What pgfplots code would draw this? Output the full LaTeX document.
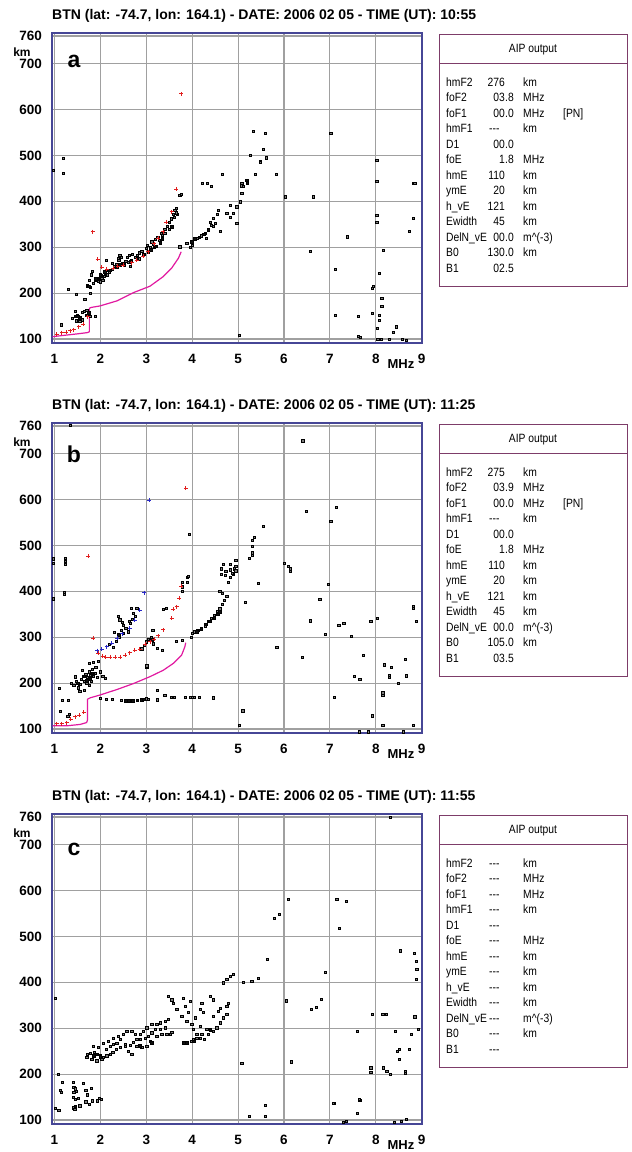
\documentclass[border=0pt]{standalone}
\usepackage{fontspec}
\setmainfont{Liberation Sans}
\newfontfamily\aipff[FakeStretch=0.86]{Liberation Sans}
\usepackage{pgfplots}
\pgfplotsset{compat=1.18}
\definecolor{gridgray}{RGB}{160,160,160}
\definecolor{framecol}{RGB}{70,70,150}
\definecolor{dotgray}{RGB}{125,125,125}
\definecolor{dotblack}{RGB}{15,15,15}
\definecolor{tracered}{RGB}{225,30,30}
\definecolor{traceblue}{RGB}{40,40,200}
\definecolor{profmag}{RGB}{225,25,160}
\definecolor{boxcol}{RGB}{125,60,105}

\pgfplotsset{iono/.style={
  scale only axis, width=370pt, height=310pt,
  anchor=north west,
  xmin=0.946, xmax=9.007, ymin=91.3, ymax=766.5,
  xtick={1,2,...,9}, ytick={100,200,300,400,500,600,700,760},
  xmajorgrids, ymajorgrids,
  major grid style={gridgray, line width=1.1pt},
  axis line style={framecol, line width=1.3pt},
  major tick length=0pt,
  /pgf/number format/assume math mode=true,
  ticklabel style={font=\fontsize{13.5}{14}\selectfont\bfseries, inner sep=0pt},
  xticklabel style={anchor=base, yshift=-20pt},
  yticklabel style={anchor=base east, xshift=-10pt, yshift=-4.7pt},
  clip=true,
},
gdot/.style={only marks, mark=square*, mark size=1.1pt, mark options={draw=none, fill=dotgray}},
bdot/.style={only marks, mark=square*, mark size=1.3pt, mark options={draw=none, fill=dotblack}},
rplus/.style={only marks, mark=+, mark size=2pt, tracered, mark options={line width=0.8pt}},
bplus/.style={only marks, mark=+, mark size=2pt, traceblue, mark options={line width=0.8pt}},
prof/.style={profmag, line width=1.2pt, no marks},
}

\newcommand\aipfont{\aipff\fontsize{12}{12}\selectfont}
% row: #1 index, #2 name, #3 int part, #4 frac part, #5 unit
\newcommand\aiprow[5]{%
  \pgfmathsetmacro\ry{-(53+15.5*#1)}%
  \node[anchor=base west, inner sep=0pt, font=\aipfont] at (446pt,\ry pt) {#2};
  \node[anchor=base east, inner sep=0pt, font=\aipfont] at (505pt,\ry pt) {#3};
  \node[anchor=base west, inner sep=0pt, font=\aipfont] at (505pt,\ry pt) {#4};
  \node[anchor=base west, inner sep=0pt, font=\aipfont] at (523pt,\ry pt) {#5};
}
\newcommand\aipdash[3]{%
  \pgfmathsetmacro\ry{-(53+15.5*#1)}%
  \node[anchor=base west, inner sep=0pt, font=\aipfont] at (446pt,\ry pt) {#2};
  \node[anchor=base west, inner sep=0pt, font=\aipfont] at (489pt,\ry pt) {-{}-{}-};
  \node[anchor=base west, inner sep=0pt, font=\aipfont] at (523pt,\ry pt) {#3};
}
\newcommand\aipframe{%
  \draw[boxcol, line width=1pt] (439pt,-1pt) rectangle (627pt,-253pt);
  \draw[boxcol, line width=1pt] (439pt,-30pt) -- (627pt,-30pt);
  \node[font=\aipfont, inner sep=0pt] at (533pt,-17pt) {AIP output};
}
\newcommand\paneltext[3]{% #1 title time, #2 letter, #3 letter baseline
  \node[anchor=base west, inner sep=0pt, font=\fontsize{14}{14}\selectfont\bfseries] at (52pt,14pt)
    {BTN (lat: -74.7, lon: 164.1) - DATE: 2006 02 05 - TIME (UT): #1};
  \node[font=\fontsize{12}{12}\selectfont\bfseries, inner sep=0pt] at (22pt,-19pt) {km};
  \node[anchor=base, inner sep=0pt, font=\fontsize{23}{23}\selectfont\bfseries] at (74pt,-#3pt) {#2};
  \node[anchor=base, inner sep=0pt, font=\fontsize{13}{13}\selectfont\bfseries] at (401pt,-335pt) {MHz};
}

\begin{document}
\begin{tikzpicture}
\useasboundingbox (0,0) rectangle (632pt,-1152pt);

%% ---------------- Panel a ----------------
\begin{axis}[iono, at={(52pt,-33pt)}]
\addplot[gdot] coordinates {
(1.19,494)(1.19,462)(0.97,468)(5.33,553)(5.59,549)(5.54,513)(5.27,500)(5.48,488)(5.48,485)(5.62,495)
(7.02,548)(4.66,459)(5.83,459)(5.37,459)(4.21,440)(4.41,432)(5.08,439)(5.08,434)(8.02,490)(8.02,444)
(8.82,439)(3.73,414)(3.76,416)
(3.88,308)(3.95,300)(4.0,305)(4.1,320)(4.2,325)(4.3,320)(4.28,330)(4.35,337)(4.42,348)(4.45,345)
(4.5,352)(4.4,355)(4.46,363)(4.55,372)(4.57,381)(4.61,334)(4.75,374)(4.82,366)(4.90,374)(4.97,388)
(4.82,392)(4.97,352)(5.04,399)(5.08,417)(5.11,432)(4.32,439)(3.73,301)
(1.72,216)(1.78,212)(1.85,222)(1.88,228)(1.92,232)(1.95,226)(2.0,232)(2.02,238)(2.05,228)(2.08,236)
(2.1,243)(2.15,240)(2.18,250)(2.2,246)(2.25,252)(2.3,258)(2.35,262)(2.38,275)(2.42,282)(2.45,278)
(2.48,264)(2.52,262)(2.55,270)(2.6,268)(2.62,282)(2.68,272)(2.7,285)(2.75,278)(2.8,282)(2.85,288)
(2.9,292)(2.95,285)(3.0,298)(3.02,305)(3.08,300)(3.12,312)(3.15,306)(3.2,318)(3.25,322)(3.28,315)
(3.32,330)(3.35,326)(3.4,340)(3.45,345)(3.5,355)(3.55,362)(3.58,372)(3.6,365)(3.62,380)(3.65,385)
(3.68,372)(1.78,200)(1.83,248)(1.8,240)(1.75,228)(2.12,272)(2.25,265)(2.4,272)(2.58,278)(2.65,258)
(2.85,275)(3.05,290)(3.18,300)(3.4,330)(3.5,340)(3.65,375)(1.99,225)(2.03,232)
(1.45,160)(1.5,152)(1.55,148)(1.6,158)(1.65,160)(1.7,162)(1.78,150)(1.48,140)(1.55,138)(1.6,142)
(1.14,131)(1.88,149)(1.66,186)(1.30,208)(1.48,197)(1.38,145)
(6.02,410)(6.64,410)(6.57,292)(7.11,252)(7.37,323)(7.11,152)(7.62,149)(7.66,104)(7.62,106)(8.02,370)
(8.02,355)(8.16,294)(8.08,243)(7.92,211)(7.94,215)(8.13,189)(8.13,171)(7.93,157)(8.08,152)(8.08,141)
(8.03,123)(8.44,127)(8.38,114)(8.04,100)(8.12,100)(8.3,100)(8.57,100)(8.66,98)(8.82,363)(8.73,334)
(8.85,439)(5.03,109)
};
\addplot[bdot] coordinates {
(1.75,215)(1.9,232)(2.0,240)(2.1,246)(2.2,250)(2.35,258)(2.42,262)(2.5,265)(2.65,268)(2.8,275)
(2.95,285)(3.1,295)(3.2,302)(3.3,310)(3.35,318)(3.55,345)(1.45,150)(1.55,145)(1.75,157)(1.7,152)
(1.5,150)(3.99,312)(4.05,318)(4.15,322)(4.25,328)(4.35,338)(5.19,446)(5.2,440)
};
\addplot[prof] coordinates {
(0.96,105)(1.12,107)(1.48,111)(1.72,114)(1.76,116)(1.76,167)(1.81,169)(1.99,172)(2.36,183)(2.72,201)
(3.08,215)(3.37,236)(3.55,254)(3.70,276)(3.76,290)
};
\addplot[rplus] coordinates {
(3.76,634)(3.65,426)(1.83,334)(1.94,274)(2.03,256)(3.55,377)(3.44,355)(3.37,334)(3.26,319)(3.17,308)
(2.14,252)(2.28,254)(2.50,261)(2.68,266)(2.79,272)(2.93,281)(3.04,290)(2.38,258)(1.05,110)(1.16,114)
(1.25,115)(1.34,118)(1.42,120)(1.53,127)(1.63,132)(1.72,149)
};
\end{axis}
\begin{scope}[shift={(0,-33pt)}]
\paneltext{10:55}{a}{34}
\aipframe
\aiprow{0}{hmF2}{276}{}{km}
\aiprow{1}{foF2}{03}{.8}{MHz}
\aiprow{2}{foF1}{00}{.0}{MHz}
\node[anchor=base west, inner sep=0pt, font=\aipfont] at (563pt,-84pt) {[PN]};
\aipdash{3}{hmF1}{km}
\aiprow{4}{D1}{00}{.0}{}
\aiprow{5}{foE}{1}{.8}{MHz}
\aiprow{6}{hmE}{110}{}{km}
\aiprow{7}{ymE}{20}{}{km}
\aiprow{8}{h\_vE}{121}{}{km}
\aiprow{9}{Ewidth}{45}{}{km}
\aiprow{10}{DelN\_vE}{00}{.0}{m\textasciicircum(-3)}
\aiprow{11}{B0}{130}{.0}{km}
\aiprow{12}{B1}{02}{.5}{}
\end{scope}

%% ---------------- Panel b ----------------
\begin{axis}[iono, at={(52pt,-423pt)}]
\addplot[gdot] coordinates {
(1.34,762)(3.93,525)(6.41,728)(6.48,575)(7.13,583)(7.02,553)(5.55,541)(5.35,518)(5.30,512)(5.30,499)
(5.30,484)(5.30,479)(5.24,472)(0.97,471)(0.97,462)(1.24,472)(1.24,466)(1.24,459)(4.68,459)(4.82,459)
(4.95,455)(4.95,468)(4.63,449)(4.73,443)(4.82,447)(4.92,449)(6.0,462)(6.1,455)(6.13,449)(3.89,430)(3.92,432)
(1.37,200)(1.42,195)(1.45,214)(1.48,205)(1.52,190)(1.55,198)(1.58,208)(1.62,215)(1.65,205)(1.68,220)
(1.7,200)(1.72,212)(1.75,225)(1.78,218)(1.8,205)(1.82,230)(1.85,215)(1.88,222)(1.9,235)(1.93,212)
(2.0,225)(2.05,215)(2.1,210)(1.6,228)(1.75,243)(1.85,245)(1.95,248)(1.65,185)(1.75,195)(1.55,182)
(1.16,163)(1.30,163)(1.13,138)(1.32,133)(1.29,128)(1.10,189)(0.97,384)(1.21,394)(1.21,398)
(2.39,346)(2.42,338)(2.47,332)(2.5,326)(2.55,320)(2.6,312)(2.62,335)(2.65,330)(2.7,340)(2.72,352)
(2.75,345)(2.5,308)(2.4,300)(2.35,292)(2.3,310)(2.45,315)(2.2,285)(2.28,278)(2.68,363)(2.79,363)
(3.01,234)(3.01,238)(3.23,276)(3.34,272)(3.14,316)(3.37,361)(3.44,363)(3.66,292)(3.79,294)(3.78,401)
(3.78,410)(3.78,419)(3.89,420)(2.9,275)(2.95,282)(3.0,290)(3.05,296)(3.1,300)(3.15,286)
(1.99,167)(2.12,165)(2.26,165)(2.45,163)(3.0,166)(3.05,165)(3.23,164)(3.23,185)(3.4,174)(3.55,170)
(3.6,170)(3.85,170)(3.95,170)(4.05,170)(4.15,169)(4.45,168)(4.0,169)
(3.97,300)(4.0,308)(4.05,312)(4.12,315)(4.2,320)(4.28,325)(4.35,335)(4.42,342)(4.48,348)(4.55,356)
(4.6,362)(4.65,372)(4.7,380)(4.75,390)(4.6,400)(4.78,420)(4.82,430)(4.9,438)(4.95,445)(4.65,395)
(4.63,438)(4.72,435)(4.88,440)
(5.44,417)(5.15,377)(5.84,278)(6.39,256)(6.57,336)(6.78,382)(6.89,307)(6.96,416)(7.47,303)(7.19,326)
(7.30,330)(7.73,261)(7.53,215)(7.65,209)(7.89,334)(8.03,341)(7.10,170)(7.93,129)(8.15,179)(8.15,174)
(8.15,108)(7.64,94)(7.84,94)(8.60,94)(8.82,109)(8.18,240)(8.33,235)(8.3,218)(8.3,213)(8.49,200)
(8.64,252)(8.67,216)(8.82,367)(8.82,363)(8.88,334)(5.03,109)(5.1,140)(6.13,443)
};
\addplot[bdot] coordinates {
(1.5,200)(1.7,205)(1.78,210)(1.65,215)(1.82,222)(2.55,162)(2.62,162)(2.7,162)(2.8,163)(2.9,164)
(2.95,165)(4.10,312)(4.2,318)(4.3,328)(4.38,335)(4.48,342)(4.55,350)(4.6,355)(2.4,305)(3.12,295)
};
\addplot[prof] coordinates {
(0.96,107)(1.27,107)(1.56,110)(1.70,114)(1.72,120)(1.72,165)(1.78,168)(1.99,174)(2.36,186)(2.72,199)
(3.08,214)(3.37,228)(3.59,243)(3.77,261)(3.84,279)(3.86,288)
};
\addplot[rplus] coordinates {
(3.86,624)(1.74,477)(3.76,411)(3.72,385)(3.66,366)(3.59,361)(3.55,341)(3.37,316)(3.26,303)(3.17,296)
(3.08,290)(2.97,285)(2.86,274)(2.75,272)(2.64,266)(2.54,261)(2.43,256)(2.32,256)(2.22,256)(2.12,256)
(2.05,258)(1.95,265)(1.85,298)(1.05,112)(1.16,112)(1.27,114)(1.35,122)(1.45,127)(1.54,130)(1.64,136)
};
\addplot[bplus] coordinates {
(3.06,599)(1.93,271)(2.03,274)(2.14,279)(2.25,287)(2.36,298)(2.47,308)(2.64,319)(2.75,337)(2.86,359)(2.95,397)
};
\end{axis}
\begin{scope}[shift={(0,-423pt)}]
\paneltext{11:25}{b}{39}
\aipframe
\aiprow{0}{hmF2}{275}{}{km}
\aiprow{1}{foF2}{03}{.9}{MHz}
\aiprow{2}{foF1}{00}{.0}{MHz}
\node[anchor=base west, inner sep=0pt, font=\aipfont] at (563pt,-84pt) {[PN]};
\aipdash{3}{hmF1}{km}
\aiprow{4}{D1}{00}{.0}{}
\aiprow{5}{foE}{1}{.8}{MHz}
\aiprow{6}{hmE}{110}{}{km}
\aiprow{7}{ymE}{20}{}{km}
\aiprow{8}{h\_vE}{121}{}{km}
\aiprow{9}{Ewidth}{45}{}{km}
\aiprow{10}{DelN\_vE}{00}{.0}{m\textasciicircum(-3)}
\aiprow{11}{B0}{105}{.0}{km}
\aiprow{12}{B1}{03}{.5}{}
\end{scope}

%% ---------------- Panel c ----------------
\begin{axis}[iono, at={(52pt,-814pt)}]
\addplot[gdot] coordinates {
(8.31,760)(6.10,581)(7.15,581)(7.35,577)(5.90,549)(5.79,540)(7.20,518)(5.64,451)(8.53,469)(8.83,464)
(8.88,446)(1.01,366)
(1.08,200)(1.16,182)(1.12,165)(1.15,160)(1.02,125)(1.09,122)(1.40,182)(1.42,172)(1.45,168)(1.48,162)
(1.42,160)(1.40,150)(1.46,146)(1.52,148)(1.63,180)(1.68,165)(1.72,155)(1.80,170)(1.83,142)(1.93,142)
(1.97,147)(2.02,146)(1.42,127)(1.44,123)(1.55,131)(1.76,135)(1.68,140)
(1.715,243)(1.773,245)(1.861,247)(1.919,243)(1.991,240)(2.064,236)(2.137,240)(2.209,243)(2.267,248)
(2.340,254)(2.427,258)(2.536,260)(2.645,263)(2.717,270)(2.790,276)(2.863,287)(2.935,294)(3.008,301)
(3.117,308)(3.226,308)(3.298,312)(3.407,315)(3.480,319)(3.553,292)(3.516,287)(3.444,287)(3.335,287)
(3.226,283)(3.081,272)(3.008,260)(2.899,258)(2.790,260)(2.681,243)(2.609,250)(2.536,265)(2.427,276)
(2.354,268)(2.282,265)(2.209,261)(2.122,254)(2.028,232)(1.919,229)(1.810,232)(1.701,236)(1.846,261)
(1.955,258)(2.064,268)(2.173,272)(2.282,279)(2.391,283)(2.500,287)(2.572,294)(2.681,294)(2.754,287)
(2.863,276)(2.972,279)(3.044,283)(3.117,290)(3.190,297)(3.298,297)(3.407,301)(3.480,370)(3.553,362)
(3.589,355)(3.662,341)(3.771,326)(3.880,315)(3.988,308)(4.025,297)(4.097,287)(4.170,279)(4.257,276)
(4.351,287)(4.460,294)(4.533,301)(4.606,312)(4.678,323)(4.751,330)(4.606,344)(4.460,362)(4.388,370)
(4.206,355)(4.170,341)(4.243,334)(4.061,323)(3.916,334)(3.843,348)(3.807,366)(3.952,359)(4.170,305)
(4.460,326)(4.569,337)(4.751,348)(4.787,355)(4.678,399)(4.751,406)(4.824,413)(4.897,417)(5.115,400)
(5.296,402)(5.441,409)(3.807,268)(3.880,268)(3.988,272)(4.025,276)(4.097,279)(4.206,287)(4.315,297)(4.388,297)
(5.08,223)(5.25,109)(5.59,133)(5.59,109)(6.04,360)(6.15,227)(6.60,342)(6.70,346)(6.81,364)(6.90,422)
(7.09,137)(7.29,96)(7.60,294)(7.59,115)(7.65,144)(7.66,91)(7.80,91)(7.93,330)(7.89,214)(7.89,205)
(8.15,330)(8.22,330)(8.16,214)(8.24,207)(8.31,200)(8.16,91)(8.25,91)(8.42,294)(8.46,250)(8.51,254)
(8.51,232)(8.64,203)(8.64,207)(8.73,254)(8.78,287)(8.85,325)(8.89,428)(8.88,407)(8.93,297)(8.67,102)
(8.40,95)(7.07,137)(7.64,146)(7.60,115)(7.35,98)(8.55,98)
};
\addplot[bdot] coordinates {
(1.85,240)(1.92,243)(2.0,238)(3.81,268)(3.88,268)(4.03,272)(2.86,262)(4.39,297)(3.12,268)(1.45,130)
};
\end{axis}
\begin{scope}[shift={(0,-814pt)}]
\paneltext{11:55}{c}{41}
\aipframe
\aipdash{0}{hmF2}{km}
\aipdash{1}{foF2}{MHz}
\aipdash{2}{foF1}{MHz}
\aipdash{3}{hmF1}{km}
\aipdash{4}{D1}{}
\aipdash{5}{foE}{MHz}
\aipdash{6}{hmE}{km}
\aipdash{7}{ymE}{km}
\aipdash{8}{h\_vE}{km}
\aipdash{9}{Ewidth}{km}
\aipdash{10}{DelN\_vE}{m\textasciicircum(-3)}
\aipdash{11}{B0}{km}
\aipdash{12}{B1}{}
\end{scope}
\end{tikzpicture}
\end{document}
